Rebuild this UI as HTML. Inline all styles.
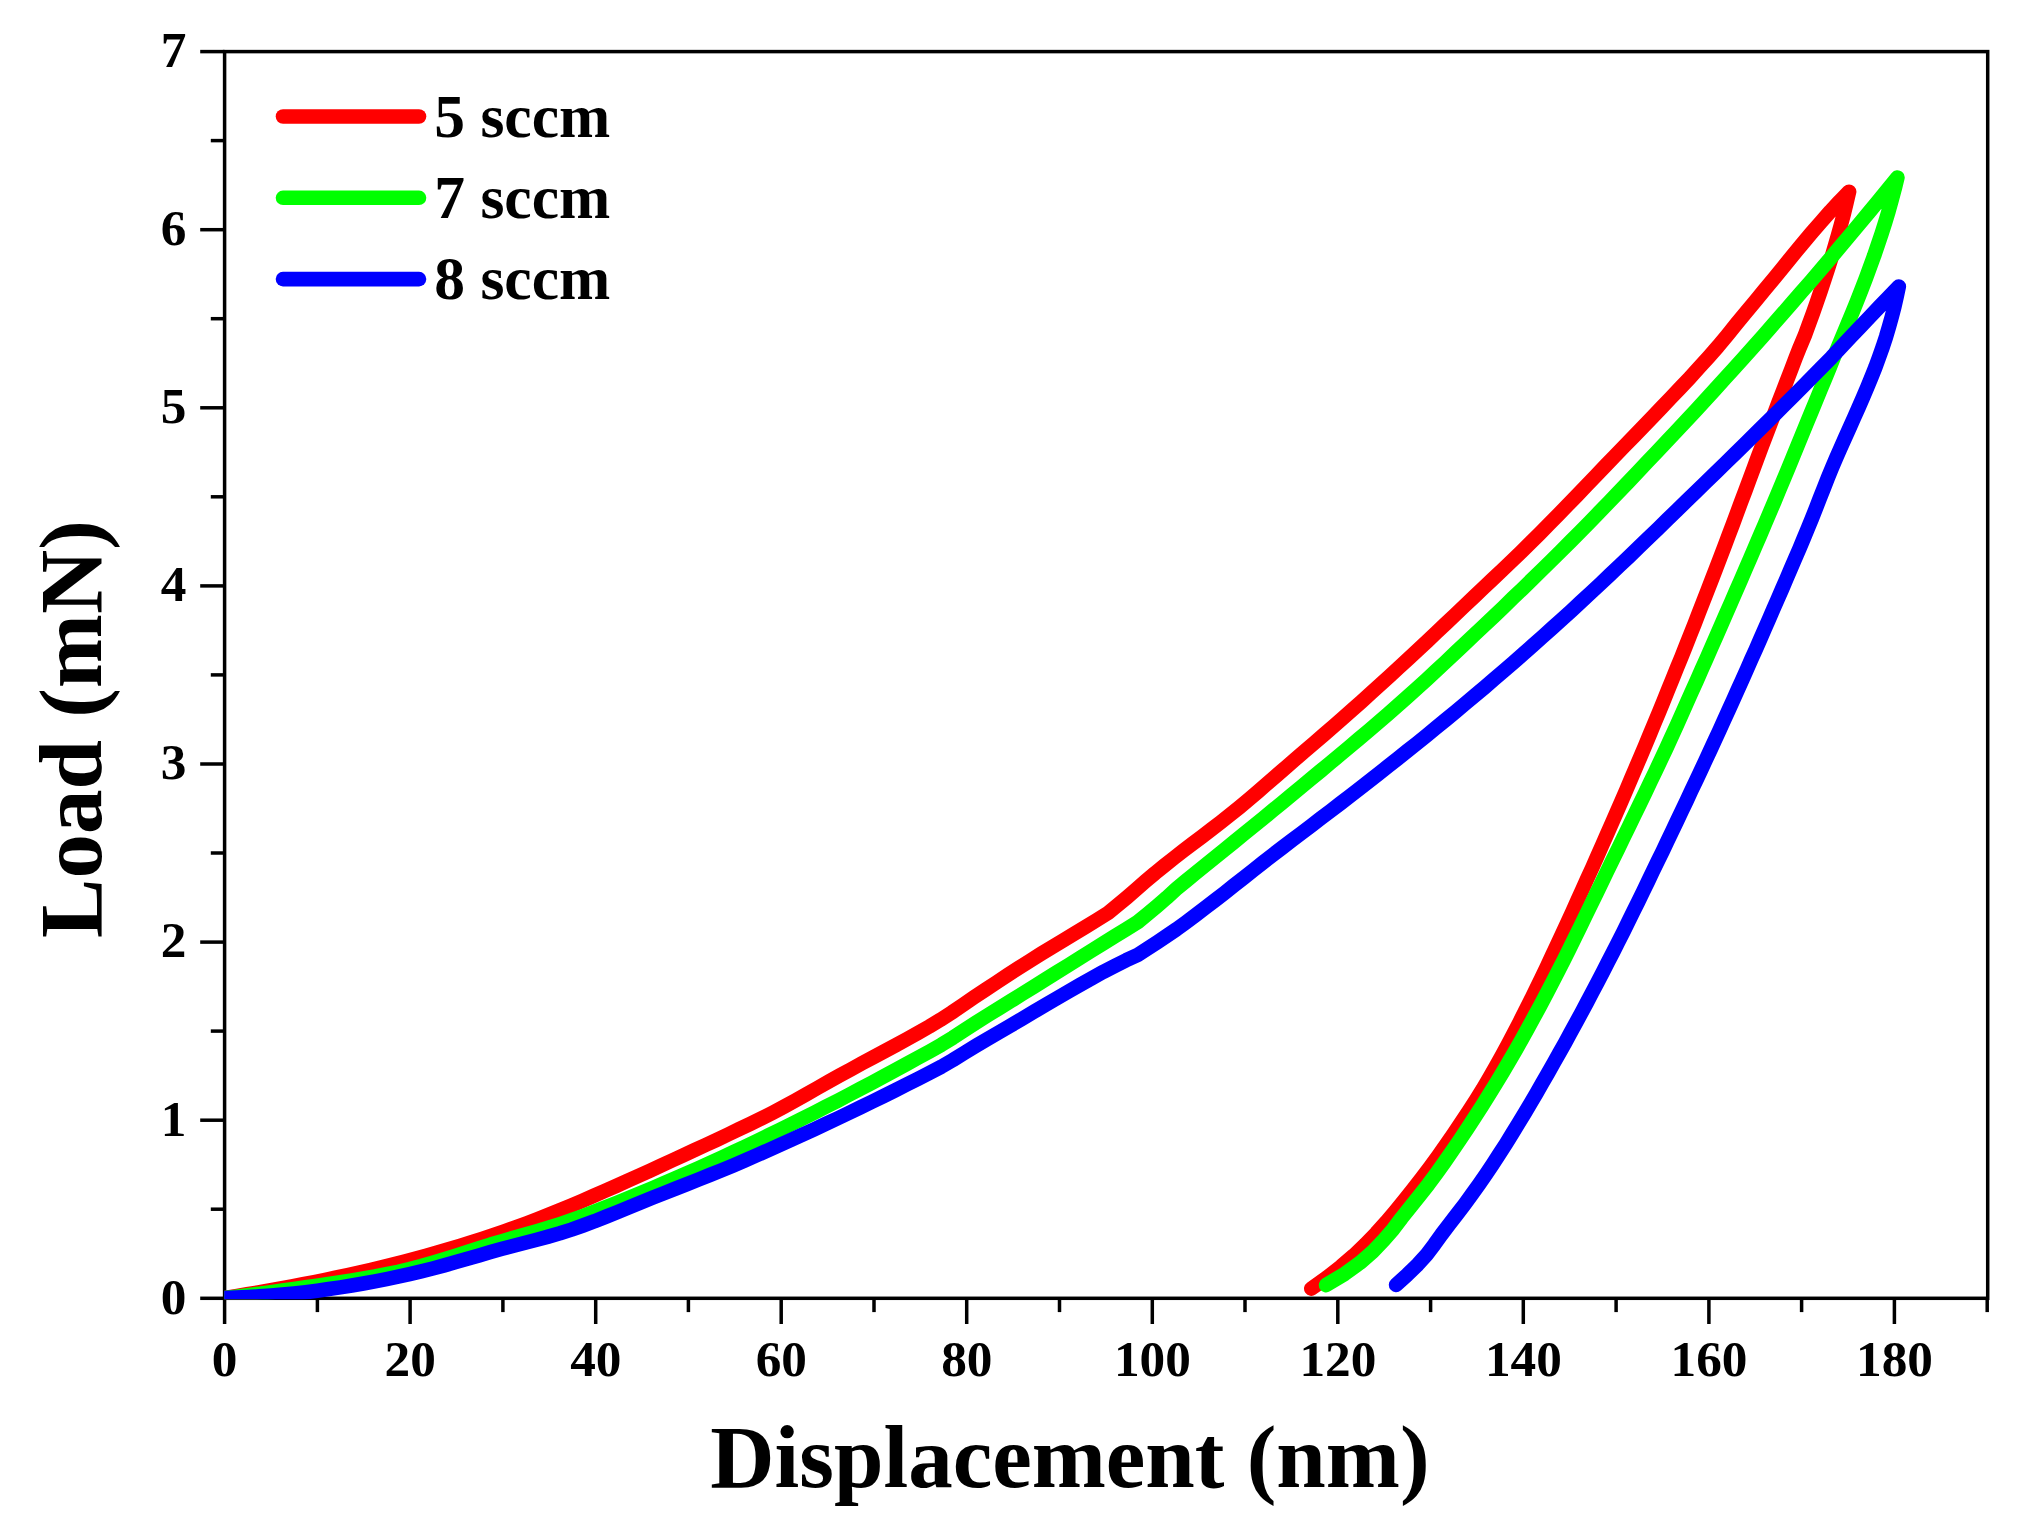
<!DOCTYPE html>
<html lang="en"><head><meta charset="utf-8"><title>Load-Displacement</title>
<style>html,body{margin:0;padding:0;background:#fff}svg{display:block}text{font-family:"Liberation Serif",serif;font-weight:bold;fill:#000}</style></head><body>
<svg width="2022" height="1528" viewBox="0 0 2022 1528">
<rect width="2022" height="1528" fill="#fff"/>
<g stroke="#000" stroke-width="3.5" fill="none" stroke-linecap="butt"><rect x="224.6" y="51.6" width="1763.1" height="1246.7"/><line x1="224.6" y1="1298.3" x2="224.6" y2="1324.0"/><line x1="410.1" y1="1298.3" x2="410.1" y2="1324.0"/><line x1="595.7" y1="1298.3" x2="595.7" y2="1324.0"/><line x1="781.2" y1="1298.3" x2="781.2" y2="1324.0"/><line x1="966.7" y1="1298.3" x2="966.7" y2="1324.0"/><line x1="1152.3" y1="1298.3" x2="1152.3" y2="1324.0"/><line x1="1337.8" y1="1298.3" x2="1337.8" y2="1324.0"/><line x1="1523.3" y1="1298.3" x2="1523.3" y2="1324.0"/><line x1="1708.9" y1="1298.3" x2="1708.9" y2="1324.0"/><line x1="1894.4" y1="1298.3" x2="1894.4" y2="1324.0"/><line x1="317.4" y1="1298.3" x2="317.4" y2="1312.1"/><line x1="502.9" y1="1298.3" x2="502.9" y2="1312.1"/><line x1="688.4" y1="1298.3" x2="688.4" y2="1312.1"/><line x1="874.0" y1="1298.3" x2="874.0" y2="1312.1"/><line x1="1059.5" y1="1298.3" x2="1059.5" y2="1312.1"/><line x1="1245.0" y1="1298.3" x2="1245.0" y2="1312.1"/><line x1="1430.6" y1="1298.3" x2="1430.6" y2="1312.1"/><line x1="1616.1" y1="1298.3" x2="1616.1" y2="1312.1"/><line x1="1801.6" y1="1298.3" x2="1801.6" y2="1312.1"/><line x1="1987.2" y1="1298.3" x2="1987.2" y2="1312.1"/><line x1="224.6" y1="1298.3" x2="200.2" y2="1298.3"/><line x1="224.6" y1="1120.2" x2="200.2" y2="1120.2"/><line x1="224.6" y1="942.1" x2="200.2" y2="942.1"/><line x1="224.6" y1="764.0" x2="200.2" y2="764.0"/><line x1="224.6" y1="585.9" x2="200.2" y2="585.9"/><line x1="224.6" y1="407.8" x2="200.2" y2="407.8"/><line x1="224.6" y1="229.7" x2="200.2" y2="229.7"/><line x1="224.6" y1="51.6" x2="200.2" y2="51.6"/><line x1="224.6" y1="1209.2" x2="210.8" y2="1209.2"/><line x1="224.6" y1="1031.1" x2="210.8" y2="1031.1"/><line x1="224.6" y1="853.0" x2="210.8" y2="853.0"/><line x1="224.6" y1="674.9" x2="210.8" y2="674.9"/><line x1="224.6" y1="496.8" x2="210.8" y2="496.8"/><line x1="224.6" y1="318.7" x2="210.8" y2="318.7"/><line x1="224.6" y1="140.6" x2="210.8" y2="140.6"/></g>
<defs><clipPath id="plot"><rect x="224.2" y="51.1" width="1764.1" height="1248.2"/></clipPath></defs>
<g clip-path="url(#plot)" fill="none" stroke-width="14.6" stroke-linecap="round" stroke-linejoin="round">
<path d="M224.7,1298.0 L235.9,1296.2 L247.1,1294.3 L258.3,1292.4 L269.4,1290.4 L280.6,1288.4 L291.8,1286.3 L303.0,1284.2 L314.2,1282.1 L325.4,1279.8 L336.5,1277.5 L347.7,1275.1 L358.9,1272.6 L370.1,1270.0 L381.3,1267.4 L392.5,1264.6 L403.6,1261.7 L414.8,1258.8 L426.0,1255.7 L437.2,1252.6 L448.4,1249.3 L459.6,1246.0 L470.7,1242.5 L481.9,1239.0 L493.1,1235.3 L504.3,1231.4 L515.5,1227.4 L526.7,1223.3 L537.8,1219.0 L549.0,1214.6 L560.2,1210.1 L571.4,1205.4 L582.6,1200.7 L593.8,1195.8 L604.9,1190.9 L616.1,1186.0 L627.3,1180.9 L638.5,1175.9 L649.7,1170.8 L660.9,1165.7 L672.0,1160.5 L683.2,1155.4 L694.4,1150.2 L705.6,1145.0 L716.8,1139.8 L728.0,1134.5 L739.1,1129.2 L750.3,1123.8 L761.5,1118.4 L772.7,1112.7 L783.9,1106.7 L795.1,1100.6 L806.2,1094.3 L817.4,1088.0 L828.6,1081.7 L839.8,1075.4 L851.0,1069.3 L862.2,1063.2 L873.3,1057.3 L884.5,1051.3 L895.7,1045.3 L906.9,1039.2 L918.1,1032.9 L929.3,1026.5 L940.4,1019.8 L951.6,1012.6 L962.8,1005.0 L974.0,997.3 L985.2,989.9 L996.4,982.5 L1007.5,975.2 L1018.7,967.9 L1029.9,960.8 L1041.1,953.8 L1052.3,947.0 L1063.5,940.3 L1074.6,933.6 L1085.8,926.8 L1097.0,919.9 L1108.2,912.9 L1117.6,905.2 L1127.0,897.3 L1136.3,889.3 L1145.7,881.1 L1155.1,873.1 L1164.5,865.5 L1173.8,858.1 L1183.2,850.8 L1192.6,843.7 L1202.0,836.6 L1211.4,829.4 L1220.7,822.2 L1230.1,814.8 L1239.5,807.2 L1248.9,799.4 L1258.3,791.4 L1267.6,783.2 L1277.0,775.1 L1286.4,766.9 L1295.8,758.8 L1305.1,750.8 L1314.5,742.7 L1323.9,734.6 L1333.3,726.4 L1342.7,718.2 L1352.0,710.0 L1361.4,701.7 L1370.8,693.2 L1380.2,684.7 L1389.6,676.2 L1398.9,667.5 L1408.3,658.8 L1417.7,650.1 L1427.1,641.3 L1436.4,632.5 L1445.8,623.6 L1455.2,614.7 L1464.6,605.8 L1474.0,596.9 L1483.3,588.0 L1492.7,579.1 L1502.1,570.2 L1511.5,561.3 L1520.9,552.2 L1530.2,543.0 L1539.6,533.7 L1549.0,524.2 L1558.4,514.7 L1567.7,505.0 L1577.1,495.3 L1586.5,485.5 L1595.9,475.7 L1605.3,465.9 L1614.6,456.2 L1624.0,446.5 L1633.4,436.8 L1642.8,427.1 L1652.2,417.4 L1661.5,407.6 L1670.9,397.8 L1680.3,387.9 L1689.7,377.9 L1699.0,367.7 L1708.4,357.3 L1717.8,346.6 L1727.2,335.3 L1736.6,323.7 L1745.9,312.4 L1755.3,301.1 L1764.7,289.7 L1774.1,278.3 L1783.5,266.8 L1792.8,255.3 L1802.2,244.0 L1811.6,232.8 L1821.0,222.0 L1830.3,211.4 L1839.7,201.3 L1849.1,191.7 L1846.5,202.8 L1843.8,213.9 L1840.9,224.9 L1837.8,236.0 L1834.6,247.1 L1831.3,258.2 L1827.8,269.3 L1824.2,280.3 L1820.5,291.4 L1816.7,302.5 L1812.8,313.6 L1808.7,324.7 L1804.7,335.7 L1800.0,346.8 L1795.6,357.9 L1791.4,369.0 L1787.1,380.1 L1782.9,391.1 L1778.6,402.2 L1774.4,413.3 L1770.2,424.4 L1766.0,435.5 L1761.8,446.5 L1757.6,457.6 L1753.5,468.7 L1749.4,479.8 L1745.3,490.9 L1741.1,501.9 L1737.0,513.0 L1732.9,524.1 L1728.7,535.2 L1724.5,546.3 L1720.3,557.3 L1716.1,568.4 L1711.8,579.5 L1707.5,590.6 L1703.2,601.7 L1698.9,612.7 L1694.6,623.8 L1690.2,634.9 L1685.8,646.0 L1681.4,657.1 L1676.9,668.1 L1672.4,679.2 L1667.9,690.3 L1663.4,701.4 L1658.9,712.5 L1654.3,723.5 L1649.7,734.6 L1645.1,745.7 L1640.4,756.8 L1635.7,767.8 L1631.0,778.9 L1626.3,790.0 L1621.5,801.1 L1616.7,812.2 L1611.9,823.2 L1607.0,834.3 L1602.1,845.4 L1597.2,856.5 L1592.3,867.6 L1587.3,878.6 L1582.3,889.7 L1577.3,900.8 L1572.3,911.9 L1567.2,923.0 L1562.1,934.0 L1557.0,945.1 L1551.8,956.2 L1546.6,967.3 L1541.3,978.4 L1535.9,989.4 L1530.5,1000.5 L1524.9,1011.6 L1519.3,1022.7 L1513.5,1033.8 L1507.7,1044.8 L1501.7,1055.9 L1495.5,1067.0 L1489.2,1078.1 L1482.7,1089.2 L1475.9,1100.2 L1468.7,1111.3 L1461.3,1122.4 L1453.8,1133.5 L1446.1,1144.6 L1438.4,1155.6 L1430.3,1166.7 L1421.9,1177.8 L1413.3,1188.9 L1404.5,1200.0 L1395.5,1211.0 L1386.1,1222.1 L1376.2,1233.2 L1365.5,1244.3 L1353.9,1255.4 L1341.1,1266.4 L1327.0,1277.5 L1311.3,1288.6" stroke="#ff0000"/>
<path d="M224.7,1298.0 L236.3,1296.7 L247.8,1295.2 L259.4,1293.8 L270.9,1292.2 L282.5,1290.6 L294.0,1289.0 L305.6,1287.3 L317.2,1285.6 L328.7,1283.9 L340.3,1282.2 L351.8,1280.4 L363.4,1278.5 L375.0,1276.5 L386.5,1274.2 L398.1,1271.8 L409.6,1269.1 L421.2,1266.1 L432.7,1262.8 L444.3,1259.3 L455.9,1255.7 L467.4,1252.0 L479.0,1248.3 L490.5,1244.6 L502.1,1241.2 L513.7,1237.8 L525.2,1234.5 L536.8,1231.2 L548.3,1227.8 L559.9,1224.1 L571.4,1220.2 L583.0,1216.0 L594.6,1211.6 L606.1,1207.1 L617.7,1202.5 L629.2,1197.8 L640.8,1193.1 L652.4,1188.3 L663.9,1183.3 L675.5,1178.3 L687.0,1173.3 L698.6,1168.1 L710.1,1162.9 L721.7,1157.6 L733.3,1152.2 L744.8,1146.8 L756.4,1141.2 L767.9,1135.7 L779.5,1130.0 L791.1,1124.3 L802.6,1118.5 L814.2,1112.7 L825.7,1106.8 L837.3,1100.9 L848.8,1094.9 L860.4,1088.8 L872.0,1082.7 L883.5,1076.5 L895.1,1070.3 L906.6,1064.0 L918.2,1057.7 L929.8,1051.3 L941.3,1044.8 L952.9,1037.7 L964.4,1030.2 L976.0,1022.6 L987.5,1015.4 L999.1,1008.2 L1010.7,1001.1 L1022.2,993.9 L1033.8,986.7 L1045.3,979.5 L1056.9,972.3 L1068.5,965.1 L1080.0,957.8 L1091.6,950.6 L1103.1,943.5 L1114.7,936.3 L1126.2,929.2 L1137.8,922.0 L1147.4,914.1 L1157.0,906.1 L1166.6,897.8 L1176.3,888.9 L1185.9,881.0 L1195.5,873.2 L1205.1,865.4 L1214.7,857.6 L1224.3,849.8 L1234.0,842.0 L1243.6,834.2 L1253.2,826.4 L1262.8,818.6 L1272.4,810.7 L1282.0,802.8 L1291.6,794.8 L1301.3,786.9 L1310.9,778.9 L1320.5,771.0 L1330.1,763.0 L1339.7,755.0 L1349.3,747.0 L1358.9,738.9 L1368.6,730.7 L1378.2,722.5 L1387.8,714.2 L1397.4,705.8 L1407.0,697.3 L1416.6,688.6 L1426.3,679.8 L1435.9,670.9 L1445.5,662.0 L1455.1,652.9 L1464.7,643.9 L1474.3,634.8 L1483.9,625.7 L1493.6,616.6 L1503.2,607.4 L1512.8,598.1 L1522.4,588.9 L1532.0,579.5 L1541.6,570.1 L1551.3,560.6 L1560.9,551.1 L1570.5,541.5 L1580.1,531.8 L1589.7,522.1 L1599.3,512.2 L1608.9,502.2 L1618.6,492.2 L1628.2,482.1 L1637.8,471.9 L1647.4,461.8 L1657.0,451.7 L1666.6,441.5 L1676.3,431.3 L1685.9,421.0 L1695.5,410.7 L1705.1,400.3 L1714.7,389.8 L1724.3,379.2 L1733.9,368.6 L1743.6,357.9 L1753.2,347.1 L1762.8,336.3 L1772.4,325.4 L1782.0,314.4 L1791.6,303.4 L1801.2,292.3 L1810.9,281.2 L1820.5,270.0 L1830.1,258.7 L1839.7,247.3 L1849.3,235.9 L1858.9,224.4 L1868.6,212.8 L1878.2,201.1 L1887.8,189.3 L1897.4,177.5 L1894.7,188.7 L1891.7,199.9 L1888.6,211.1 L1885.2,222.3 L1881.7,233.4 L1877.9,244.6 L1874.1,255.8 L1870.0,267.0 L1865.9,278.2 L1861.6,289.4 L1857.2,300.6 L1852.7,311.8 L1848.1,322.9 L1843.4,334.1 L1838.7,345.3 L1834.1,356.5 L1829.6,367.7 L1825.0,378.9 L1820.4,390.1 L1815.8,401.3 L1811.2,412.4 L1806.6,423.6 L1802.0,434.8 L1797.4,446.0 L1792.8,457.2 L1788.2,468.4 L1783.6,479.6 L1778.9,490.8 L1774.3,501.9 L1769.5,513.1 L1764.8,524.3 L1760.0,535.5 L1755.2,546.7 L1750.4,557.9 L1745.5,569.1 L1740.7,580.3 L1735.8,591.5 L1731.0,602.6 L1726.1,613.8 L1721.2,625.0 L1716.3,636.2 L1711.4,647.4 L1706.5,658.6 L1701.5,669.8 L1696.6,681.0 L1691.6,692.1 L1686.6,703.3 L1681.6,714.5 L1676.6,725.7 L1671.5,736.9 L1666.4,748.1 L1661.1,759.3 L1655.9,770.5 L1650.5,781.6 L1645.2,792.8 L1639.8,804.0 L1634.4,815.2 L1629.0,826.4 L1623.5,837.6 L1618.1,848.8 L1612.6,860.0 L1607.2,871.1 L1601.8,882.3 L1596.4,893.5 L1591.0,904.7 L1585.5,915.9 L1580.1,927.1 L1574.6,938.3 L1569.1,949.5 L1563.5,960.7 L1557.8,971.8 L1552.1,983.0 L1546.3,994.2 L1540.4,1005.4 L1534.3,1016.6 L1528.2,1027.8 L1522.0,1039.0 L1515.7,1050.2 L1509.2,1061.3 L1502.6,1072.5 L1495.8,1083.7 L1488.9,1094.9 L1481.9,1106.1 L1474.7,1117.3 L1467.4,1128.5 L1459.9,1139.7 L1452.3,1150.8 L1444.6,1162.0 L1436.6,1173.2 L1428.3,1184.4 L1419.6,1195.6 L1410.5,1206.8 L1401.6,1218.0 L1393.2,1229.2 L1383.6,1240.3 L1372.9,1251.5 L1360.1,1262.7 L1344.6,1273.9 L1326.1,1285.1" stroke="#00ff00"/>
<path d="M224.7,1298.0 L236.3,1297.6 L247.8,1297.1 L259.4,1296.4 L270.9,1295.6 L282.5,1294.6 L294.0,1293.5 L305.6,1292.2 L317.2,1290.7 L328.7,1289.1 L340.3,1287.4 L351.8,1285.5 L363.4,1283.5 L375.0,1281.3 L386.5,1279.1 L398.1,1276.7 L409.6,1274.1 L421.2,1271.4 L432.7,1268.5 L444.3,1265.4 L455.9,1262.1 L467.4,1258.8 L479.0,1255.4 L490.5,1252.0 L502.1,1248.8 L513.7,1245.7 L525.2,1242.7 L536.8,1239.7 L548.3,1236.6 L559.9,1233.3 L571.4,1229.6 L583.0,1225.5 L594.6,1221.2 L606.1,1216.6 L617.7,1211.9 L629.2,1207.2 L640.8,1202.4 L652.4,1197.8 L663.9,1193.2 L675.5,1188.6 L687.0,1184.1 L698.6,1179.5 L710.1,1174.9 L721.7,1170.2 L733.3,1165.4 L744.8,1160.5 L756.4,1155.4 L767.9,1150.3 L779.5,1145.1 L791.1,1139.9 L802.6,1134.6 L814.2,1129.3 L825.7,1123.9 L837.3,1118.5 L848.8,1113.0 L860.4,1107.4 L872.0,1101.8 L883.5,1096.1 L895.1,1090.4 L906.6,1084.6 L918.2,1078.7 L929.8,1072.8 L941.3,1066.7 L952.9,1060.0 L964.4,1052.9 L976.0,1045.8 L987.5,1039.0 L999.1,1032.3 L1010.7,1025.5 L1022.2,1018.7 L1033.8,1011.8 L1045.3,1005.0 L1056.9,998.3 L1068.5,991.5 L1080.0,984.9 L1091.6,978.3 L1103.1,971.9 L1114.7,965.9 L1126.2,960.2 L1137.8,954.8 L1147.4,948.6 L1157.1,942.3 L1166.7,935.9 L1176.3,929.4 L1186.0,922.4 L1195.6,915.2 L1205.2,907.8 L1214.9,900.4 L1224.5,892.9 L1234.1,885.3 L1243.8,877.7 L1253.4,870.1 L1263.0,862.5 L1272.7,855.0 L1282.3,847.6 L1291.9,840.2 L1301.6,833.0 L1311.2,825.7 L1320.8,818.3 L1330.5,811.0 L1340.1,803.6 L1349.7,796.2 L1359.4,788.7 L1369.0,781.2 L1378.6,773.7 L1388.3,766.1 L1397.9,758.5 L1407.5,750.8 L1417.2,743.1 L1426.8,735.3 L1436.4,727.4 L1446.1,719.5 L1455.7,711.6 L1465.3,703.5 L1475.0,695.4 L1484.6,687.3 L1494.2,679.0 L1503.9,670.7 L1513.5,662.4 L1523.1,654.0 L1532.7,645.5 L1542.4,636.9 L1552.0,628.3 L1561.6,619.6 L1571.3,610.8 L1580.9,601.9 L1590.5,593.0 L1600.2,584.0 L1609.8,574.9 L1619.4,565.8 L1629.1,556.6 L1638.7,547.3 L1648.3,538.0 L1658.0,528.7 L1667.6,519.3 L1677.2,510.0 L1686.9,500.6 L1696.5,491.3 L1706.1,481.9 L1715.8,472.5 L1725.4,463.1 L1735.0,453.7 L1744.7,444.3 L1754.3,434.8 L1763.9,425.3 L1773.6,415.8 L1783.2,406.2 L1792.8,396.6 L1802.5,386.9 L1812.1,377.2 L1821.7,367.4 L1831.4,357.6 L1841.0,347.3 L1850.6,337.0 L1860.3,326.9 L1869.9,316.7 L1879.5,306.6 L1889.2,296.5 L1898.8,286.5 L1896.7,296.6 L1894.4,306.7 L1891.8,316.8 L1889.0,326.8 L1886.0,336.9 L1882.7,347.0 L1879.1,357.1 L1875.4,367.2 L1871.4,377.3 L1867.3,387.3 L1863.0,397.4 L1858.6,407.5 L1854.1,417.6 L1849.6,427.7 L1845.1,437.8 L1840.6,447.9 L1836.2,457.9 L1831.9,468.0 L1827.8,478.1 L1823.8,488.2 L1819.8,498.3 L1815.9,508.4 L1811.9,518.5 L1807.8,528.5 L1803.6,538.6 L1799.4,548.7 L1795.0,558.8 L1790.7,568.9 L1786.4,579.0 L1782.1,589.0 L1777.7,599.1 L1773.3,609.2 L1768.9,619.3 L1764.5,629.4 L1760.1,639.5 L1755.7,649.6 L1751.2,659.6 L1746.8,669.7 L1742.3,679.8 L1737.7,689.9 L1733.2,700.0 L1728.6,710.1 L1724.1,720.1 L1719.5,730.2 L1714.8,740.3 L1710.2,750.4 L1705.5,760.5 L1700.8,770.6 L1696.1,780.7 L1691.3,790.7 L1686.6,800.8 L1681.8,810.9 L1677.0,821.0 L1672.2,831.1 L1667.4,841.2 L1662.6,851.3 L1657.7,861.3 L1652.8,871.4 L1648.0,881.5 L1643.1,891.6 L1638.2,901.7 L1633.2,911.8 L1628.3,921.8 L1623.3,931.9 L1618.2,942.0 L1613.1,952.1 L1607.9,962.2 L1602.7,972.3 L1597.5,982.4 L1592.2,992.4 L1586.9,1002.5 L1581.5,1012.6 L1576.0,1022.7 L1570.5,1032.8 L1565.0,1042.9 L1559.4,1052.9 L1553.7,1063.0 L1548.0,1073.1 L1542.2,1083.2 L1536.4,1093.3 L1530.5,1103.4 L1524.5,1113.5 L1518.4,1123.5 L1512.2,1133.6 L1506.0,1143.7 L1499.5,1153.8 L1492.9,1163.9 L1486.2,1174.0 L1479.2,1184.1 L1472.1,1194.1 L1464.7,1204.2 L1457.0,1214.3 L1449.1,1224.4 L1441.5,1234.5 L1434.3,1244.6 L1426.7,1254.6 L1417.6,1264.7 L1407.2,1274.8 L1396.1,1284.9" stroke="#0000ff"/>
</g>
<text x="224.7" y="1375.6" font-size="51.3" text-anchor="middle">0</text>
<text x="410.2" y="1375.6" font-size="51.3" text-anchor="middle">20</text>
<text x="595.8" y="1375.6" font-size="51.3" text-anchor="middle">40</text>
<text x="781.3" y="1375.6" font-size="51.3" text-anchor="middle">60</text>
<text x="966.8" y="1375.6" font-size="51.3" text-anchor="middle">80</text>
<text x="1152.4" y="1375.6" font-size="51.3" text-anchor="middle">100</text>
<text x="1337.9" y="1375.6" font-size="51.3" text-anchor="middle">120</text>
<text x="1523.4" y="1375.6" font-size="51.3" text-anchor="middle">140</text>
<text x="1709.0" y="1375.6" font-size="51.3" text-anchor="middle">160</text>
<text x="1894.5" y="1375.6" font-size="51.3" text-anchor="middle">180</text>
<text x="186.5" y="1313.6" font-size="51.3" text-anchor="end">0</text>
<text x="186.5" y="1135.5" font-size="51.3" text-anchor="end">1</text>
<text x="186.5" y="957.4" font-size="51.3" text-anchor="end">2</text>
<text x="186.5" y="779.3" font-size="51.3" text-anchor="end">3</text>
<text x="186.5" y="601.2" font-size="51.3" text-anchor="end">4</text>
<text x="186.5" y="423.1" font-size="51.3" text-anchor="end">5</text>
<text x="186.5" y="245.0" font-size="51.3" text-anchor="end">6</text>
<text x="186.5" y="66.9" font-size="51.3" text-anchor="end">7</text>
<text x="1070" y="1487" font-size="89" text-anchor="middle">Displacement (nm)</text>
<text transform="translate(100.8,729) rotate(-90)" font-size="89" text-anchor="middle">Load (mN)</text>
<line x1="283" y1="116.5" x2="419" y2="116.5" stroke="#ff0000" stroke-width="14.6" stroke-linecap="round"/>
<text x="434.3" y="136.7" font-size="61.5">5 sccm</text>
<line x1="283" y1="197.8" x2="419" y2="197.8" stroke="#00ff00" stroke-width="14.6" stroke-linecap="round"/>
<text x="434.3" y="218.0" font-size="61.5">7 sccm</text>
<line x1="283" y1="279.1" x2="419" y2="279.1" stroke="#0000ff" stroke-width="14.6" stroke-linecap="round"/>
<text x="434.3" y="299.3" font-size="61.5">8 sccm</text>
</svg></body></html>
